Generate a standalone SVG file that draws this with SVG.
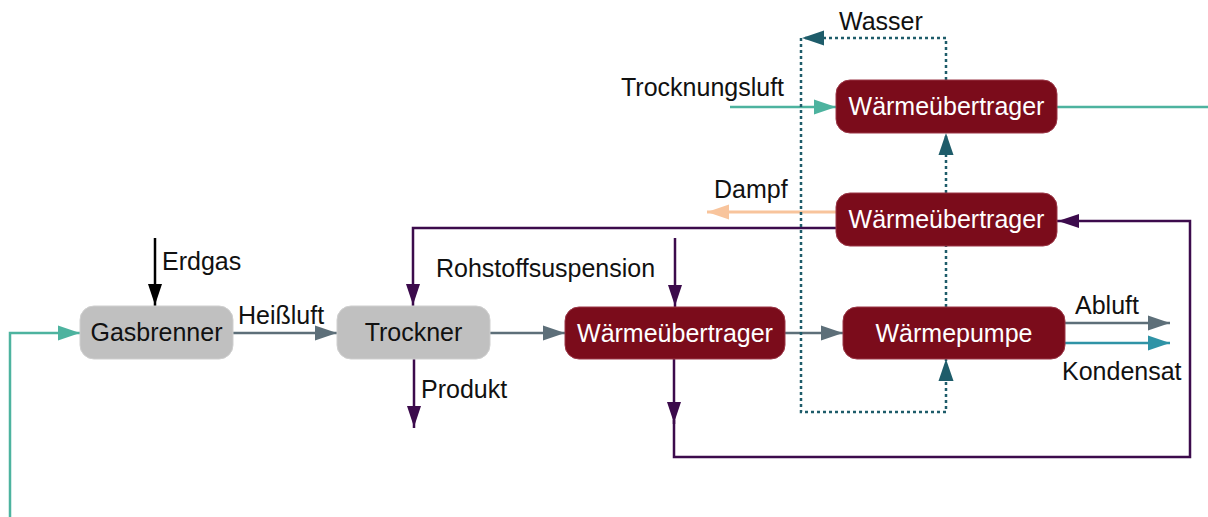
<svg xmlns="http://www.w3.org/2000/svg" width="1208" height="517" viewBox="0 0 1208 517">
  <style>
    .lbl { font-family: "Liberation Sans", Arial, sans-serif; font-size: 25px; fill: #111; }
    .box-txt { font-family: "Liberation Sans", Arial, sans-serif; font-size: 25px; text-anchor: middle; }
    .grey-box { fill: #c0c0c0; stroke: #cfcfcf; stroke-width: 1; }
    .grey-box + text { fill: #111; }
    .red-box { fill: #7b0c1b; stroke: #9b3646; stroke-width: 1; }
    .line { fill: none; stroke-width: 2.5; }
    .gray { stroke: #5d6f79; }
    .teal { stroke: #4db39f; }
    .cond { stroke: #2f93a6; }
    .purple { stroke: #3c0b4c; }
    .black { stroke: #000; }
    .orange { stroke: #f8c49c; stroke-width: 3; }
    .water { stroke: #1e5c6a; stroke-dasharray: 3 3; }
  </style>
  <defs>
    <marker id="ah-gray" markerUnits="userSpaceOnUse" markerWidth="22" markerHeight="16" refX="22" refY="8" orient="auto">
      <path d="M0,0.5 L22,8 L0,15.5 Z" fill="#5d6f79"/>
    </marker>
    <marker id="ah-teal" markerUnits="userSpaceOnUse" markerWidth="22" markerHeight="16" refX="22" refY="8" orient="auto">
      <path d="M0,0.5 L22,8 L0,15.5 Z" fill="#4db39f"/>
    </marker>
    <marker id="ah-cond" markerUnits="userSpaceOnUse" markerWidth="22" markerHeight="16" refX="22" refY="8" orient="auto">
      <path d="M0,0.5 L22,8 L0,15.5 Z" fill="#2f93a6"/>
    </marker>
    <marker id="ah-purple" markerUnits="userSpaceOnUse" markerWidth="22" markerHeight="16" refX="22" refY="8" orient="auto">
      <path d="M0,1 L21,8 L0,15 Z" fill="#3c0b4c"/>
    </marker>
    <marker id="ah-black" markerUnits="userSpaceOnUse" markerWidth="22" markerHeight="16" refX="22" refY="8" orient="auto">
      <path d="M0,1 L21,8 L0,15 Z" fill="#000"/>
    </marker>
    <marker id="ah-orange" markerUnits="userSpaceOnUse" markerWidth="22" markerHeight="16" refX="22" refY="8" orient="auto">
      <path d="M0,0.5 L22,8 L0,15.5 Z" fill="#f8c49c"/>
    </marker>
    <marker id="ah-water" markerUnits="userSpaceOnUse" markerWidth="22" markerHeight="16" refX="22" refY="8" orient="auto">
      <path d="M0,0.5 L22,8 L0,15.5 Z" fill="#1e5c6a"/>
    </marker>
  </defs>

  <!-- flows -->
  <g id="connectors">
    <!-- fresh air to burner -->
    <path class="line teal" d="M10,517 V333 H80" marker-end="url(#ah-teal)"/>
    <!-- natural gas -->
    <path class="line black" d="M155,238 V306" marker-end="url(#ah-black)"/>
    <!-- hot air / exhaust chain -->
    <path class="line gray" d="M233,333 H337" marker-end="url(#ah-gray)"/>
    <path class="line gray" d="M490,333 H565" marker-end="url(#ah-gray)"/>
    <path class="line gray" d="M785,333 H843" marker-end="url(#ah-gray)"/>
    <path class="line gray" d="M1065,323 H1170" marker-end="url(#ah-gray)"/>
    <path class="line cond" d="M1065,343 H1170" marker-end="url(#ah-cond)"/>
    <!-- product and slurry -->
    <path class="line purple" d="M414,359 V428" marker-end="url(#ah-purple)"/>
    <path class="line purple" d="M675,238 V307" marker-end="url(#ah-purple)"/>
    <path class="line purple" d="M836,228 H413 V306" marker-end="url(#ah-purple)"/>
    <path class="line purple" d="M674,359 V424" marker-end="url(#ah-purple)"/>
    <path class="line purple" d="M674,420 V457 H1190 V221 H1057" marker-end="url(#ah-purple)"/>
    <!-- steam -->
    <path class="line orange" d="M836,212 H707" marker-end="url(#ah-orange)"/>
    <!-- drying air -->
    <path class="line teal" d="M730,107 H836" marker-end="url(#ah-teal)"/>
    <path class="line teal" d="M1057,107 H1208"/>
    <!-- water circuit -->
    <path class="line water" d="M946,80 V38 H802" marker-end="url(#ah-water)"/>
    <path class="line water" d="M801,38 V412 H946 V359" marker-end="url(#ah-water)"/>
    <path class="line water" d="M946,307 V246"/>
    <path class="line water" d="M946,193 V133" marker-end="url(#ah-water)"/>
  </g>

  <!-- flow labels -->
  <g id="labels">
    <text class="lbl" x="162" y="270">Erdgas</text>
    <text class="lbl" x="238" y="324">Heißluft</text>
    <text class="lbl" x="421" y="398">Produkt</text>
    <text class="lbl" x="436" y="277">Rohstoffsuspension</text>
    <text class="lbl" x="714" y="198">Dampf</text>
    <text class="lbl" x="621" y="96">Trocknungsluft</text>
    <text class="lbl" x="839" y="30">Wasser</text>
    <text class="lbl" x="1075" y="314">Abluft</text>
    <text class="lbl" x="1062" y="380">Kondensat</text>
  </g>

  <g id="gasbrenner">
    <rect class="grey-box" x="80" y="306" width="153" height="53" rx="14"/>
    <text class="box-txt" x="156.5" y="341" fill="#111">Gasbrenner</text>
  </g>
  <g id="trockner">
    <rect class="grey-box" x="337" y="306" width="153" height="53" rx="14"/>
    <text class="box-txt" x="413.5" y="341" fill="#111">Trockner</text>
  </g>
  <g id="waermeuebertrager-unten">
    <rect class="red-box" x="565" y="307" width="220" height="52" rx="14"/>
    <text class="box-txt" x="675" y="342" fill="#fff">Wärmeübertrager</text>
  </g>
  <g id="waermepumpe">
    <rect class="red-box" x="843" y="307" width="222" height="52" rx="14"/>
    <text class="box-txt" x="954" y="342" fill="#fff">Wärmepumpe</text>
  </g>
  <g id="waermeuebertrager-mitte">
    <rect class="red-box" x="836" y="193" width="221" height="53" rx="14"/>
    <text class="box-txt" x="946.5" y="228" fill="#fff">Wärmeübertrager</text>
  </g>
  <g id="waermeuebertrager-oben">
    <rect class="red-box" x="836" y="80" width="221" height="53" rx="14"/>
    <text class="box-txt" x="946.5" y="115" fill="#fff">Wärmeübertrager</text>
  </g>
</svg>
